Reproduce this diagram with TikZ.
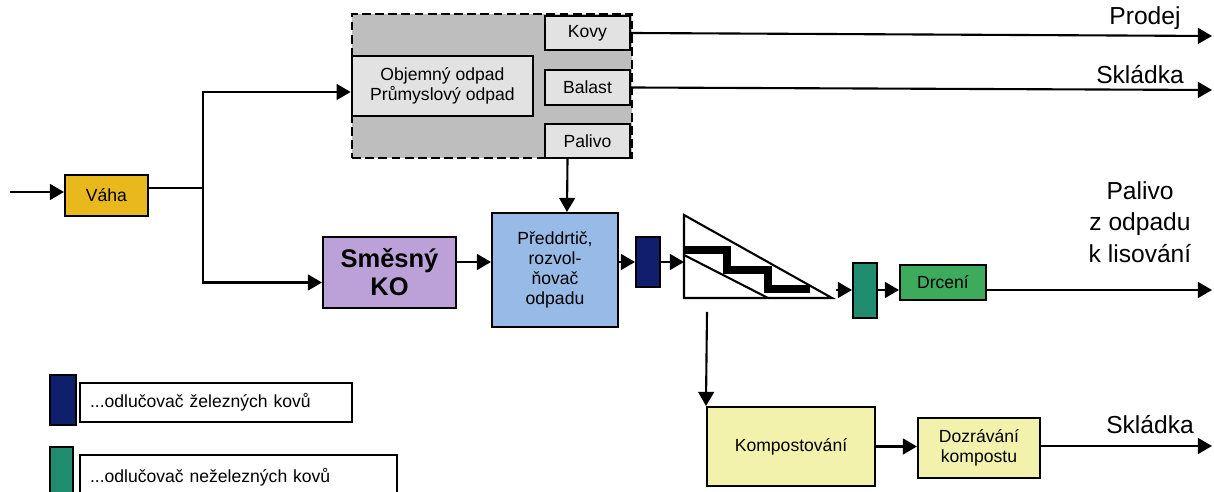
\documentclass[tikz,border=0pt]{standalone}
\usepackage{fontspec}
\setmainfont{Liberation Sans}
\usepackage{tikz}
\usetikzlibrary{calc,arrows.meta}

\definecolor{vahacol}{RGB}{232,184,28}
\definecolor{smescol}{RGB}{188,160,216}
\definecolor{preddcol}{RGB}{152,186,230}
\definecolor{fecol}{RGB}{16,30,110}
\definecolor{nfecol}{RGB}{32,140,112}
\definecolor{drccol}{RGB}{62,170,92}
\definecolor{kompcol}{RGB}{242,242,172}
\definecolor{grpcol}{RGB}{190,190,190}
\definecolor{lgrcol}{RGB}{226,226,226}

\tikzset{
    box/.style={rectangle, draw=black, line width=1.2pt, inner sep=0pt, align=center, font=\fontsize{10}{11.5}\selectfont},
    arr/.style={line width=1.2pt, -{Triangle[length=8pt,width=9pt]}},
    ln/.style={line width=1.2pt},
    lab/.style={align=center, font=\fontsize{14}{18}\selectfont}
}

\begin{document}
\begin{tikzpicture}[x=0.02cm, y=-0.02cm]
    \useasboundingbox (0,0) rectangle (1214,492);

    \node[box, fill=grpcol, line width=1.6pt, dash pattern=on 5pt off 2.5pt, minimum width=5.6cm, minimum height=2.88cm] (grp) at (492,86) {};
    
    \node[box, fill=lgrcol, minimum width=3.62cm, minimum height=1.2cm] (obj) at (442.5,86) {Objemný odpad\\Průmyslový odpad};
    
    \node[box, fill=lgrcol, minimum width=1.7cm, minimum height=0.68cm] (kovy) at (587.5,33) {Kovy};
    
    \node[box, fill=lgrcol, minimum width=1.7cm, minimum height=0.7cm] (balast) at (587.5,87.5) {Balast};
    
    \node[box, fill=lgrcol, minimum width=1.7cm, minimum height=0.68cm] (palivo) at (587.5,141) {Palivo};
    
    \node[box, fill=vahacol, minimum width=1.66cm, minimum height=0.82cm] (vaha) at (106.5,195.5) {Váha};
    
    \node[box, fill=smescol, minimum width=2.66cm, minimum height=1.42cm, font=\fontsize{14.5}{16}\selectfont\bfseries] (smes) at (389.5,272.5) {Směsný\\KO};
    
    \node[box, fill=preddcol, minimum width=2.52cm, minimum height=2.28cm] (predd) at (555,270) {Předdrtič,\\rozvol-\\ňovač\\odpadu};
    
    \node[box, fill=fecol, minimum width=0.48cm, minimum height=1.0cm] (fe) at (648,262) {};
    
    \node[box, fill=nfecol, minimum width=0.48cm, minimum height=1.1cm] (nfe) at (865,290.5) {};
    
    \node[box, fill=drccol, minimum width=1.72cm, minimum height=0.7cm] (drc) at (943,282.5) {Drcení};
    
    \node[box, fill=kompcol, minimum width=3.36cm, minimum height=1.58cm] (komp) at (791,446.5) {Kompostování};
    
    \node[box, fill=kompcol, minimum width=2.44cm, minimum height=1.2cm] (dozr) at (979,448) {Dozrávání\\kompostu};
    
    \node[box, fill=fecol, minimum width=0.52cm, minimum height=1.0cm] (legfe) at (63,400) {};
    
    \node[box, minimum width=5.44cm, minimum height=0.78cm, align=left, text width=5.04cm] (legfetxt) at (216,402.5) {...odlučovač železných kovů};
    
    \node[box, fill=nfecol, minimum width=0.46cm, minimum height=0.96cm] (legnfe) at (61.5,471) {};
    
    \node[box, minimum width=6.34cm, minimum height=0.9cm, align=left, text width=5.94cm] (legnfetxt) at (238.5,477.5) {...odlučovač neželezných kovů};
    
    \draw[ln] (684,215) -- (684,298) -- (832,298) -- cycle;
    \draw[ln] (684,255) -- (768,298);
    \draw[line width=4pt] (684,250) -- (727,250) -- (727,270) -- (768,270) -- (768,289) -- (810,289);
    
    \coordinate (in) at (10,192);
    \coordinate (split) at (203,188);
    \coordinate (prodej) at (1212,36);
    \coordinate (skl1) at (1212,90);
    \coordinate (trin) at (684,262);
    \coordinate (trout) at (836,290);
    \coordinate (trbot) at (707,312);
    \coordinate (out3) at (1212,290);
    \coordinate (out4) at (1212,446);
    
    \draw[arr] (in) -- (vaha.west |- in);
    \draw[ln] (vaha.east |- split) -- (split);
    \draw[arr] (split) |- ($(grp.west)+(0,6)$);
    \draw[arr] (split) |- ($(smes.west)+(0,10)$);
    \draw[arr] (kovy.east) -- (prodej);
    \draw[arr] (balast.east) -- (skl1);
    \draw[arr] ($(palivo.south)+(-20,0)$) -- ($(predd.north)+(12,0)$);
    \draw[arr] (smes.east |- fe) -- (predd.west |- fe);
    \draw[arr] (predd.east |- fe) -- (fe.west);
    \draw[arr] (fe.east) -- (trin);
    \draw[arr] (trout) -- (nfe.west |- trout);
    \draw[arr] (nfe.east |- trout) -- (drc.west |- trout);
    \draw[arr] (out3 -| drc.east) -- (out3);
    \draw[arr] (trbot) -- (komp.north west);
    \draw[arr] (komp.east) -- (komp.east -| dozr.west);
    \draw[arr] (out4 -| dozr.east) -- (out4);
    
    \node[lab, anchor=south] (prodejlab) at (1145,36) {Prodej};
    \node[lab, anchor=south] (skl1lab) at (1140,90) {Skládka};
    \node[lab] (pallab) at (1140,222) {Palivo\\z odpadu\\k lisování};
    \node[lab, anchor=south] (skl2lab) at (1150,440) {Skládka};
    
\end{tikzpicture}
\end{document}
